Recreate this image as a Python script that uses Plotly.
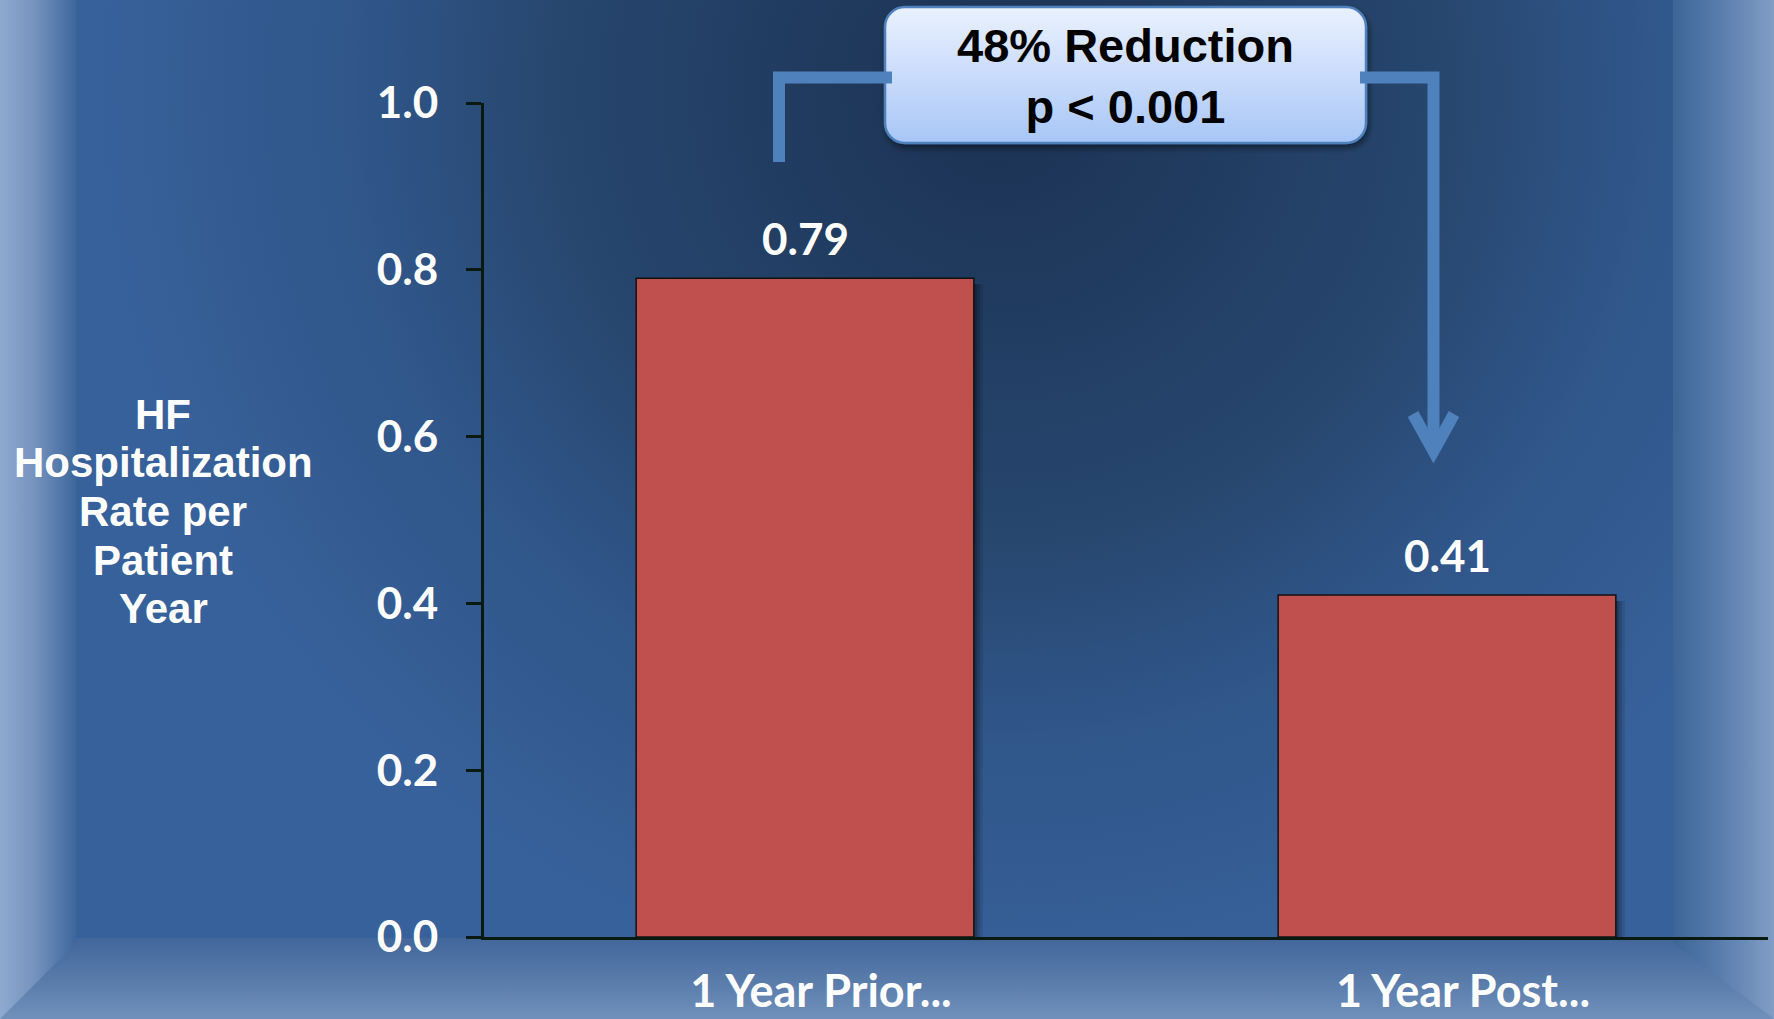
import base64
import plotly.graph_objects as go

# ---- data -------------------------------------------------------------
categories = ["1 Year Prior...", "1 Year Post..."]
rates = [0.79, 0.41]
y_ticks = [0.0, 0.2, 0.4, 0.6, 0.8, 1.0]
y_title_lines = ["HF", "Hospitalization", "Rate per", "Patient", "Year"]
callout_lines = ["48% Reduction", "p &lt; 0.001"]

# ---- page geometry ----------------------------------------------------
W, H = 1774, 1019
M_L, M_R, M_T, M_B = 484, 6, 103, 82
PW = W - M_L - M_R
PH = H - M_T - M_B
BAR_W = 0.526


def px_x(px):
    return (px - M_L) / PW


def px_y(py):
    return (H - M_B - py) / PH


def svg_uri(svg):
    return "data:image/svg+xml;base64," + base64.b64encode(svg.encode()).decode()


# slide-style background: dark navy glow near the top, lighter frame edges
background_svg = f"""<svg xmlns="http://www.w3.org/2000/svg" width="{W}" height="{H}" viewBox="0 0 {W} {H}" preserveAspectRatio="none">
<defs>
<radialGradient id="base" gradientUnits="userSpaceOnUse" cx="1000" cy="90" r="900">
<stop offset="0" stop-color="#1b3152"/>
<stop offset="0.5" stop-color="#27476f"/>
<stop offset="0.72" stop-color="#30568a"/>
<stop offset="1" stop-color="#37619a"/>
</radialGradient>
<linearGradient id="left" gradientUnits="userSpaceOnUse" x1="0" y1="0" x2="76" y2="0">
<stop offset="0" stop-color="#8eaacf"/>
<stop offset="0.45" stop-color="#7693bf"/>
<stop offset="0.85" stop-color="#4d73a5"/>
<stop offset="1" stop-color="#3d669b"/>
</linearGradient>
<linearGradient id="right" gradientUnits="userSpaceOnUse" x1="1673" y1="0" x2="1774" y2="0">
<stop offset="0" stop-color="#3c6697"/>
<stop offset="0.4" stop-color="#5579a9"/>
<stop offset="1" stop-color="#809dc5"/>
</linearGradient>
<linearGradient id="bottom" gradientUnits="userSpaceOnUse" x1="0" y1="938" x2="0" y2="{H}">
<stop offset="0" stop-color="#44689a" stop-opacity="0.85"/>
<stop offset="1" stop-color="#7191bc" stop-opacity="1"/>
</linearGradient>
</defs>
<rect x="0" y="0" width="{W}" height="{H}" fill="url(#base)"/>
<polygon points="0,938 {W},938 {W},{H} 0,{H}" fill="url(#bottom)"/>
<polygon points="0,0 76,0 76,943 0,{H}" fill="url(#left)"/>
<polygon points="1673,0 {W},0 {W},{H} 1673,943" fill="url(#right)"/>
</svg>"""

# rounded call-out box with a soft vertical gradient and drop shadow
BOX_X0, BOX_Y0, BOX_X1, BOX_Y1 = 885, 7, 1366, 143
bw, bh = BOX_X1 - BOX_X0, BOX_Y1 - BOX_Y0
pad = 10
callout_svg = f"""<svg xmlns="http://www.w3.org/2000/svg" width="{bw + 2 * pad}" height="{bh + 2 * pad}" viewBox="0 0 {bw + 2 * pad} {bh + 2 * pad}">
<defs>
<linearGradient id="fillg" x1="0" y1="0" x2="0" y2="1">
<stop offset="0" stop-color="#eaf1fe"/>
<stop offset="0.5" stop-color="#cadcfb"/>
<stop offset="1" stop-color="#a7c6f6"/>
</linearGradient>
<filter id="sh" x="-10%" y="-10%" width="120%" height="130%">
<feDropShadow dx="2" dy="4" stdDeviation="3" flood-color="#000" flood-opacity="0.45"/>
</filter>
</defs>
<rect x="{pad}" y="{pad}" width="{bw}" height="{bh}" rx="20" ry="20" fill="url(#fillg)" stroke="#4f81bd" stroke-width="2.5" filter="url(#sh)"/>
</svg>"""

fig = go.Figure()

fig.add_trace(
    go.Bar(
        x=categories,
        y=rates,
        width=BAR_W,
        marker=dict(color="#C0504D", line=dict(color="#111111", width=1.5)),
        hoverinfo="x+y",
    )
)

# soft shadow along the right edge of each bar
shapes = []
px_per_cat = PW / len(categories)
for i, v in enumerate(rates):
    for k, alpha in ((9, 0.10), (6, 0.14), (3, 0.2)):
        shapes.append(
            dict(
                type="rect", xref="x", yref="y", layer="below",
                x0=i + BAR_W / 2, x1=i + BAR_W / 2 + k / px_per_cat,
                y0=0, y1=v - 6 / PH,
                fillcolor=f"rgba(0,0,0,{alpha})", line=dict(width=0),
            )
        )

# bracket with a downward arrow from the first bar to the second
BR = "#4f81bd"
shapes.append(dict(
    type="path", xref="paper", yref="paper", layer="above",
    path=f"M {px_x(779)} {px_y(162)} L {px_x(779)} {px_y(77.5)} L {px_x(892)} {px_y(77.5)}",
    line=dict(color=BR, width=12),
))
shapes.append(dict(
    type="path", xref="paper", yref="paper", layer="above",
    path=f"M {px_x(1360)} {px_y(77.5)} L {px_x(1433.5)} {px_y(77.5)} L {px_x(1433.5)} {px_y(446)}",
    line=dict(color=BR, width=12),
))
shapes.append(dict(
    type="path", xref="paper", yref="paper", layer="above",
    path=f"M {px_x(1413)} {px_y(414)} L {px_x(1433.5)} {px_y(451)} L {px_x(1454)} {px_y(414)}",
    line=dict(color=BR, width=12),
))

images = [
    dict(
        source=svg_uri(background_svg), xref="paper", yref="paper",
        x=px_x(0), y=px_y(0), sizex=W / PW, sizey=H / PH,
        xanchor="left", yanchor="top", sizing="stretch", layer="below",
    ),
    dict(
        source=svg_uri(callout_svg), xref="paper", yref="paper",
        x=px_x(BOX_X0 - pad), y=px_y(BOX_Y0 - pad),
        sizex=(bw + 2 * pad) / PW, sizey=(bh + 2 * pad) / PH,
        xanchor="left", yanchor="top", sizing="stretch", layer="above",
    ),
]

value_font = dict(family="Lato", size=44, color="white", weight="bold")
cat_font = dict(family="Lato", size=45, color="white", weight="bold")

annotations = []
# value labels above bars
for c, v in zip(categories, rates):
    annotations.append(dict(
        x=c, y=v, xref="x", yref="y", text=f"{v:.2f}", showarrow=False,
        yanchor="middle", yshift=40, font=value_font,
    ))

# y-axis title, kept horizontal, one line per row with tight leading
TITLE_TOP, TITLE_STEP = 414, 48.7
for k, line in enumerate(y_title_lines):
    annotations.append(dict(
        x=px_x(163), y=px_y(TITLE_TOP + k * TITLE_STEP), xref="paper", yref="paper",
        text=line, showarrow=False, xanchor="center", yanchor="middle",
        font=dict(family="Liberation Sans", size=42, color="white", weight="bold"),
    ))

# call-out text
annotations.append(dict(
    x=px_x((BOX_X0 + BOX_X1) / 2), y=px_y(76), xref="paper", yref="paper",
    text="<br>".join(callout_lines), showarrow=False,
    xanchor="center", yanchor="middle", align="center",
    font=dict(family="Liberation Sans", size=47, color="black", weight="bold"),
))

AX = "#0b1a10"
fig.update_layout(
    width=W, height=H,
    margin=dict(l=M_L, r=M_R, t=M_T, b=M_B, pad=0, autoexpand=False),
    paper_bgcolor="#2a4a75",
    plot_bgcolor="rgba(0,0,0,0)",
    showlegend=False,
    shapes=shapes,
    images=images,
    annotations=annotations,
    xaxis=dict(
        range=[-0.5, 1.5], showgrid=False, zeroline=False, automargin=False,
        showline=True, linecolor=AX, linewidth=3,
        ticks="", tickfont=cat_font,
        ticklabelstandoff=13, ticklabelshift=16,
    ),
    yaxis=dict(
        range=[0, 1.0], showgrid=False, zeroline=False, automargin=False,
        showline=True, linecolor=AX, linewidth=3,
        ticks="outside", ticklen=15, tickwidth=3, tickcolor=AX,
        tickvals=y_ticks, ticktext=[f"{t:.1f}" for t in y_ticks],
        tickfont=value_font, ticklabelstandoff=19,
    ),
)

fig.write_html("out.html")
